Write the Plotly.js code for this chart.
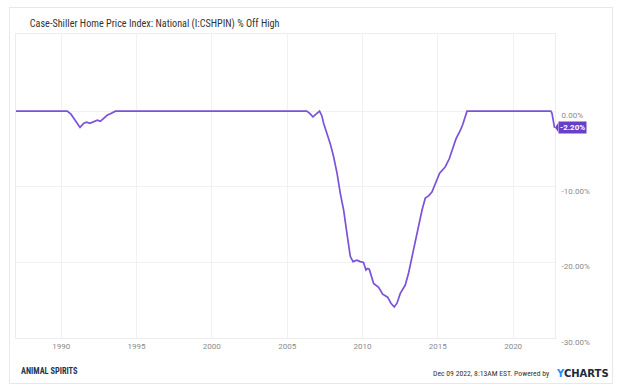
<!DOCTYPE html>
<html>
<head>
<meta charset="utf-8">
<script src="https://cdn.plot.ly/plotly-3.0.1.min.js"></script>
<style>
html,body{margin:0;padding:0;background:#fff;}
#wrap{position:relative;width:624px;height:392px;}
#card{position:absolute;left:9px;top:7px;width:604px;height:377px;border:1px solid #e8e8e8;box-sizing:border-box;pointer-events:none;}
#chart{position:absolute;left:0;top:0;width:624px;height:392px;}
</style>
</head>
<body>
<div id="wrap"><div id="chart"></div><div id="card"></div></div>
<script>
// Data: decimal year and % off high
const years = [1987.0, 1990.4, 1990.65, 1990.9, 1991.1, 1991.25, 1991.5, 1991.7, 1991.9, 1992.15, 1992.4, 1992.6, 1992.85, 1993.05, 1993.3, 1993.6,
  2006.3, 2006.5, 2006.71, 2006.95, 2007.15, 2007.3, 2007.42, 2007.64, 2007.86, 2008.08, 2008.31, 2008.53, 2008.75, 2008.97,
  2009.19, 2009.37, 2009.5, 2009.63, 2009.85, 2010.07, 2010.23, 2010.35, 2010.45, 2010.6, 2010.74, 2011.07, 2011.34, 2011.67,
  2011.89, 2012.11, 2012.29, 2012.51, 2012.84, 2013.06, 2013.29, 2013.5, 2013.73, 2013.95, 2014.17, 2014.39, 2014.61, 2014.83,
  2015.12, 2015.5, 2015.76, 2015.98, 2016.2, 2016.5, 2016.65, 2016.94, 2022.5, 2022.58, 2022.67, 2022.75];
const offHigh = [0, 0, -0.4, -1.2, -1.8, -2.15, -1.6, -1.45, -1.6, -1.35, -1.2, -1.35, -0.9, -0.55, -0.3, 0,
  0, -0.3, -0.75, -0.3, 0, -0.6, -1.6, -2.95, -4.3, -6.0, -8.2, -10.9, -13.1, -16.2,
  -19.2, -19.9, -19.8, -19.7, -19.9, -20.0, -21.0, -20.8, -20.9, -22.0, -22.8, -23.3, -24.2, -24.6,
  -25.4, -25.9, -25.4, -24.1, -23.0, -21.4, -19.2, -17.0, -14.8, -13.1, -11.5, -11.2, -10.7, -9.55,
  -8.2, -7.35, -6.3, -5.0, -3.7, -2.5, -1.8, 0, 0, -0.3, -1.1, -2.2];
const xTicks = [1990, 1995, 2000, 2005, 2010, 2015, 2020];
const yTicks = [0, -10, -20, -30];
const yTickText = ["0.00%", "-10.00%", "-20.00%", "-30.00%"];
const lastLabel = "-2.20%";

const purple = '#7b52d9';
const lastX = years[years.length-1], lastY = offHigh[offHigh.length-1];
const narrow = '"Liberation Sans Narrow", "Roboto Condensed", Roboto, sans-serif';

const trace = {
  x: years, y: offHigh, type: 'scatter', mode: 'lines',
  line: {color: purple, width: 1.7, shape: 'linear'},
  hoverinfo: 'skip'
};

const layout = {
  width: 624, height: 392,
  margin: {l: 16, r: 69, t: 34, b: 54},
  paper_bgcolor: '#fff', plot_bgcolor: '#fff',
  showlegend: false,
  font: {family: 'Roboto, sans-serif', color: '#888'},
  title: {text: 'Case-Shiller Home Price Index: National (I:CSHPIN) % Off High',
    font: {family: narrow, size: 10.2, color: '#333'},
    x: 16/624, xanchor: 'left', xref: 'paper', y: 1 - 23/392, yanchor: 'middle'},
  xaxis: {range: [1987.0, 2022.78], tickvals: xTicks, ticktext: xTicks.map(String),
    showgrid: true, gridcolor: '#f1f1f1', gridwidth: 1, zeroline: false,
    showline: true, linecolor: '#ececec', mirror: true, ticks: '',
    tickfont: {size: 8, color: '#8a8a8a'}, fixedrange: true},
  yaxis: {range: [-30, 10.2], side: 'right', tickvals: yTicks, ticktext: yTickText,
    showgrid: true, gridcolor: '#f1f1f1', gridwidth: 1, zeroline: false,
    showline: true, linecolor: '#ececec', mirror: true, ticks: '',
    ticklabelshift: 4, ticklabelstandoff: 4,
    tickfont: {size: 8, color: '#8a8a8a'}, fixedrange: true},
  shapes: [{type: 'path', xref: 'paper', yref: 'paper',
    path: 'M 1.0 0.6924 L 1.0058 0.7072 L 1.0058 0.6776 Z',
    fillcolor: '#6a3fc8', line: {width: 0}}],
  annotations: [
    {xref: 'x', yref: 'y', x: 2022.78, y: lastY, xanchor: 'left', yanchor: 'middle', xshift: 3,
     text: '<b>' + lastLabel + '</b>', showarrow: false, bgcolor: '#6a3fc8', borderpad: 1,
     font: {family: 'Roboto', size: 8, color: '#fff'}},
    {xref: 'paper', yref: 'paper', x: (552-16)/539, y: (338-373)/304, xanchor: 'right', yanchor: 'middle',
     text: 'Dec 09 2022, 8:13AM EST. Powered by', showarrow: false,
     font: {family: narrow, size: 7.7, color: '#333'}},
    {xref: 'paper', yref: 'paper', x: (554-16)/539, y: (338-373)/304, xanchor: 'left', yanchor: 'middle',
     text: '<b><span style="color:#1e90ff">Y</span>CHARTS</b>', showarrow: false,
     font: {family: '"DejaVu Sans"', size: 10, color: '#1b2a3a'}},
    {xref: 'paper', yref: 'paper', x: (19-16)/539, y: (338-371)/304, xanchor: 'left', yanchor: 'middle',
     text: '<b>ANIMAL SPIRITS</b>', showarrow: false,
     font: {family: narrow, size: 8.3, color: '#1d3550'}}
  ]
};

Plotly.newPlot('chart', [trace], layout, {staticPlot: true, displayModeBar: false});
</script>
</body>
</html>
